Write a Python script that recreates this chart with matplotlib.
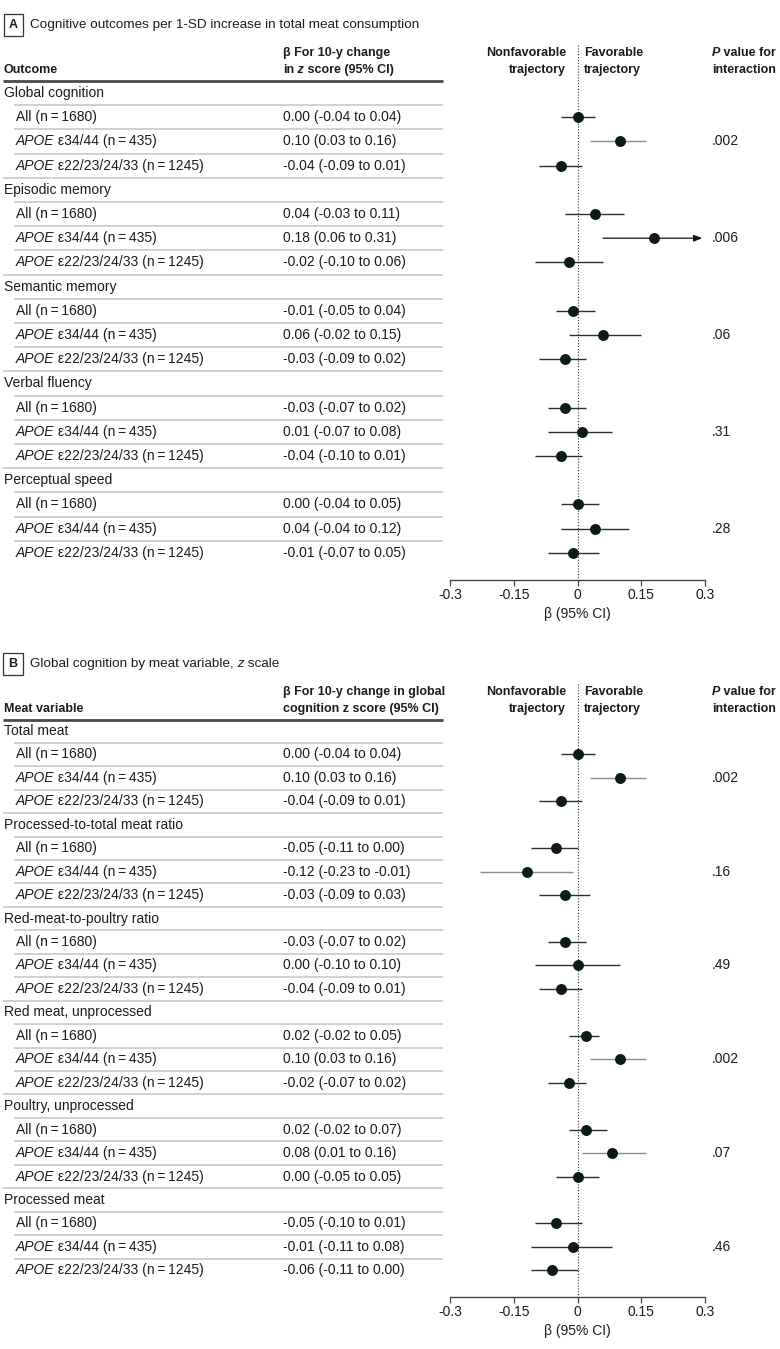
import matplotlib
matplotlib.use("Agg")
import matplotlib.pyplot as plt
import matplotlib.transforms as mtransforms
import numpy as np

plt.rcParams['font.family'] = ['Liberation Sans', 'DejaVu Sans']
plt.rcParams['axes.unicode_minus'] = False

# ---- data ----
subgroups = ["All (n\u2009=\u20091680)", "APOE ε34/44 (n\u2009=\u2009435)",
             "APOE ε22/23/24/33 (n\u2009=\u20091245)"]

outcomes_a = ["Global cognition", "Episodic memory", "Semantic memory",
              "Verbal fluency", "Perceptual speed"]
est_a = [[0.00, 0.10, -0.04], [0.04, 0.18, -0.02], [-0.01, 0.06, -0.03],
         [-0.03, 0.01, -0.04], [0.00, 0.04, -0.01]]
lo_a = [[-0.04, 0.03, -0.09], [-0.03, 0.06, -0.10], [-0.05, -0.02, -0.09],
        [-0.07, -0.07, -0.10], [-0.04, -0.04, -0.07]]
hi_a = [[0.04, 0.16, 0.01], [0.11, 0.31, 0.06], [0.04, 0.15, 0.02],
        [0.02, 0.08, 0.01], [0.05, 0.12, 0.05]]
p_a = [".002", ".006", ".06", ".31", ".28"]

meats_b = ["Total meat", "Processed-to-total meat ratio", "Red-meat-to-poultry ratio",
           "Red meat, unprocessed", "Poultry, unprocessed", "Processed meat"]
est_b = [[0.00, 0.10, -0.04], [-0.05, -0.12, -0.03], [-0.03, 0.00, -0.04],
         [0.02, 0.10, -0.02], [0.02, 0.08, 0.00], [-0.05, -0.01, -0.06]]
lo_b = [[-0.04, 0.03, -0.09], [-0.11, -0.23, -0.09], [-0.07, -0.10, -0.09],
        [-0.02, 0.03, -0.07], [-0.02, 0.01, -0.05], [-0.10, -0.11, -0.11]]
hi_b = [[0.04, 0.16, 0.01], [0.00, -0.01, 0.03], [0.02, 0.10, 0.01],
        [0.05, 0.16, 0.02], [0.07, 0.16, 0.05], [0.01, 0.08, 0.00]]
p_b = [".002", ".16", ".49", ".002", ".07", ".46"]

x_ticks = [-0.3, -0.15, 0, 0.15, 0.3]
x_ticklabels = ["-0.3", "-0.15", "0", "0.15", "0.3"]

# ---- layout (pixels) ----
W, H = 780, 1349
INK = '#1c1c1c'
FS = 10
HFS = 9.0
PLOT_L, PLOT_R = 450, 705
TABLE_R = 443

fig = plt.figure(figsize=(W / 100, H / 100), dpi=100)
canvas = fig.add_axes([0, 0, 1, 1])
canvas.set_xlim(0, W)
canvas.set_ylim(H, 0)
canvas.axis('off')


def fx(px):
    return px / W


def rich(ax, x, y, parts, transform=None, fontsize=FS, weight='normal'):
    # draw pieces of text one after another on the same line
    prev = None
    for s, style in parts:
        w = 'bold' if 'b' in style else weight
        st = 'italic' if 'i' in style else 'normal'
        if prev is None:
            kw = {} if transform is None else {'transform': transform}
            prev = ax.text(x, y, s, va='center', ha='left', fontsize=fontsize,
                           fontweight=w, fontstyle=st, color=INK, **kw)
        else:
            prev = ax.annotate(s, xy=(1, 0), xycoords=prev, va='bottom', ha='left',
                               fontsize=fontsize, fontweight=w, fontstyle=st, color=INK)
    return prev


def panel(letter, title_parts, title_y, head1, head2, head_y, head_line_y,
          top_row, step, axis_y, names, est, lo, hi, pvals):
    # panel title with boxed letter
    canvas.text(13, title_y, letter, ha='center', va='center', fontsize=9,
                fontweight='bold', color=INK,
                bbox=dict(boxstyle='square,pad=0.4', fc='white', ec='#333333', lw=0.9))
    rich(canvas, 30, title_y, title_parts, fontsize=9.7)

    # column headers
    y1, y2 = head_y
    rich(canvas, 4, y2, [(head1, 'b')], fontsize=HFS)
    rich(canvas, 283, y1, head2[0], fontsize=HFS)
    rich(canvas, 283, y2, head2[1], fontsize=HFS)
    for txt, yy in [("Nonfavorable", y1), ("trajectory", y2)]:
        canvas.text(566, yy, txt, ha='right', va='center', fontsize=HFS,
                    fontweight='bold', color=INK)
    for txt, yy in [("Favorable", y1), ("trajectory", y2)]:
        canvas.text(584, yy, txt, ha='left', va='center', fontsize=HFS,
                    fontweight='bold', color=INK)
    rich(canvas, 712, y1, [("P", 'bi'), (" value for", 'b')], fontsize=HFS)
    rich(canvas, 712, y2, [("interaction", 'b')], fontsize=HFS)
    canvas.plot([3, TABLE_R], [head_line_y, head_line_y], color='#4a4a4a', lw=2.0,
                solid_capstyle='butt')

    n = 4 * len(names)
    bottom = (axis_y - top_row) / step
    ax = fig.add_axes([fx(PLOT_L), 1 - axis_y / H, fx(PLOT_R) - fx(PLOT_L),
                       (axis_y - top_row + step / 2) / H])
    ax.set_xlim(-0.3, 0.3)
    ax.set_ylim(bottom, -0.5)
    ax.patch.set_alpha(0)
    trans = mtransforms.blended_transform_factory(fig.transFigure, ax.transData)

    est = np.array(est)
    lo = np.array(lo)
    hi = np.array(hi)
    rows = np.arange(len(names))[:, None] * 4 + np.array([1, 2, 3])

    # table text and separators
    for g, name in enumerate(names):
        r0 = 4 * g
        rich(ax, fx(4), r0, [(name, '')], transform=trans)
        for k, lab in enumerate(subgroups):
            r = r0 + 1 + k
            if lab.startswith("APOE"):
                rich(ax, fx(16), r, [("APOE", 'i'), (lab[4:], '')], transform=trans)
            else:
                rich(ax, fx(16), r, [(lab, '')], transform=trans)
            e, l, h = est[g, k], lo[g, k], hi[g, k]
            ax.text(fx(283), r, f"{e:.2f} ({l:.2f} to {h:.2f})", transform=trans,
                    va='center', ha='left', fontsize=FS, color=INK)
        ax.text(fx(712), r0 + 2, pvals[g], transform=trans, va='center', ha='left',
                fontsize=FS, color=INK)
    for r in range(1, n):
        x0 = 3 if r % 4 == 0 else 14
        ax.plot([fx(x0), fx(TABLE_R)], [r - 0.5, r - 0.5], transform=trans,
                color='#c4c4c4', lw=1.1, clip_on=False, solid_capstyle='butt')

    # zero reference line from header down to axis
    top_data = (head_y[0] - 8 - top_row) / step
    ax.plot([0, 0], [top_data, bottom], color='#333333', lw=0.8, ls=(0, (1, 1.6)),
            clip_on=False, zorder=1)

    # confidence intervals
    sig = (lo > 0) | (hi < 0)
    for g in range(len(names)):
        for k in range(3):
            y = rows[g, k]
            if hi[g, k] > 0.3:
                ax.annotate('', xy=(0.3, y), xytext=(lo[g, k], y),
                            arrowprops=dict(arrowstyle='-|>,head_length=0.5,head_width=0.2',
                                            color='#111111', lw=0.9,
                                            shrinkA=0, shrinkB=2))
            else:
                ax.plot([lo[g, k], hi[g, k]], [y, y], lw=1.0, zorder=2,
                        color='#8c8c8c' if sig[g, k] else '#2e2e2e',
                        solid_capstyle='butt')
    ax.scatter(est.ravel(), rows.ravel(), s=62, color='#0c1a1c', zorder=3,
               linewidths=0)

    # axis
    for sp in ['top', 'left', 'right']:
        ax.spines[sp].set_visible(False)
    ax.spines['bottom'].set_color('#444444')
    ax.spines['bottom'].set_linewidth(1.0)
    ax.set_yticks([])
    ax.set_xticks(x_ticks)
    ax.set_xticklabels(x_ticklabels)
    ax.tick_params(axis='x', direction='out', length=4, width=0.9, color='#444444',
                   pad=2, labelsize=FS, labelcolor=INK)
    ax.set_xlabel("β (95% CI)", fontsize=FS, color=INK, labelpad=3)
    return ax


panel("A", [("Cognitive outcomes per 1-SD increase in total meat consumption", '')],
      25, "Outcome",
      [[("β For 10-y change", 'b')],
       [("in", 'b'), (" z", 'bi'), (" score (95% CI)", 'b')]],
      (53, 70), 81, 93, 24.2, 580,
      outcomes_a, est_a, lo_a, hi_a, p_a)

panel("B", [("Global cognition by meat variable,", ''), (" z", 'i'), (" scale", '')],
      664, "Meat variable",
      [[("β For 10-y change in global", 'b')],
       [("cognition z score (95% CI)", 'b')]],
      (692, 709), 720, 731, 23.45, 1297,
      meats_b, est_b, lo_b, hi_b, p_b)

fig.savefig("out.png", dpi=100)
